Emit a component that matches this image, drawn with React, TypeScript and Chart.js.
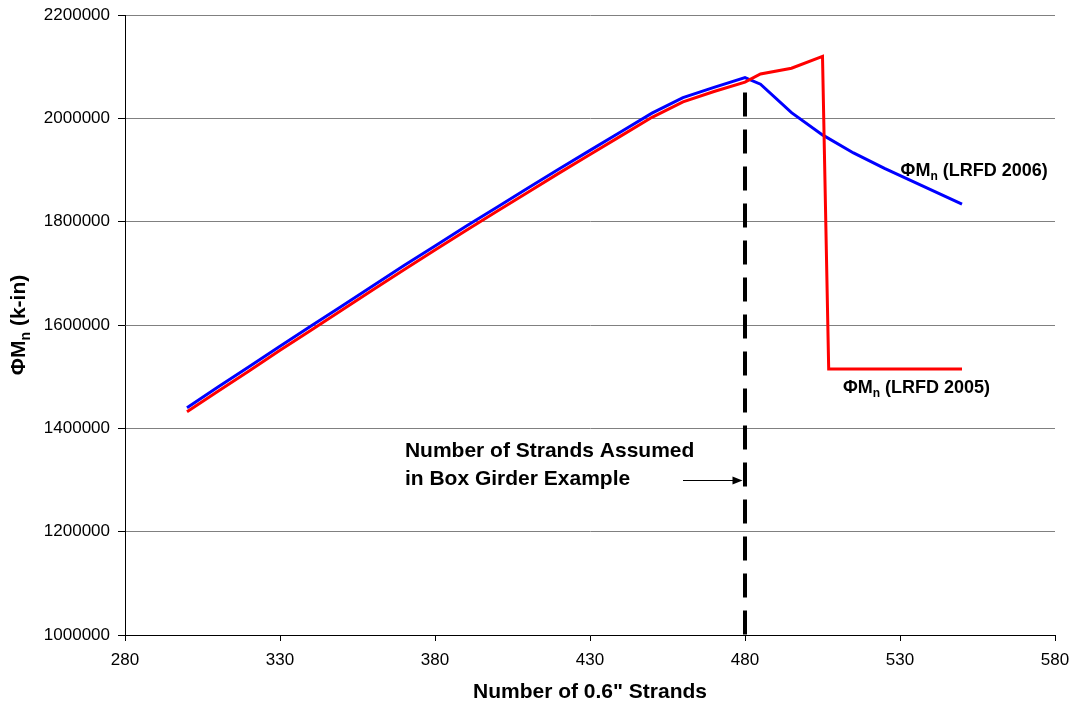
import React, { useEffect, useRef } from "react";
import { Chart, registerables } from "chart.js";

Chart.register(...registerables);

// ---- data ----
const strands2006 = [300, 310, 320, 330, 340, 350, 360, 370, 380, 390, 400, 410, 420, 430, 440, 450, 460, 470, 480, 485, 495, 505, 515, 525, 550];
const moment2006 = [1440000, 1480000, 1519000, 1559000, 1598000, 1637000, 1676000, 1715000, 1753000, 1791000, 1828000, 1865000, 1902000, 1938000, 1974000, 2010000, 2040000, 2060000, 2079000, 2066000, 2011000, 1968000, 1933000, 1903000, 1834000];

const strands2005 = [300, 310, 320, 330, 340, 350, 360, 370, 380, 390, 400, 410, 420, 430, 440, 450, 460, 470, 480, 485, 495, 505, 507, 550];
const moment2005 = [1432000, 1472000, 1511000, 1551000, 1590000, 1629000, 1668000, 1707000, 1745000, 1783000, 1820000, 1857000, 1894000, 1930000, 1966000, 2002000, 2032000, 2052000, 2070000, 2086000, 2097000, 2120000, 1515000, 1515000];

const assumedStrands = [480, 480];
const assumedLine = [2050000, 1000000];

const xTicks = [280, 330, 380, 430, 480, 530, 580];
const yMin = 1000000;
const yMax = 2200000;
const yStep = 200000;

const FONT = '"Liberation Sans", Arial, Helvetica, sans-serif';

function drawSubText(
  ctx: CanvasRenderingContext2D,
  x: number,
  y: number,
  pre: string,
  sub: string,
  post: string,
  size: number,
  subSize: number,
  measureOnly = false
): number {
  ctx.font = `bold ${size}px ${FONT}`;
  const w1 = ctx.measureText(pre).width;
  const w3 = ctx.measureText(post).width;
  ctx.font = `bold ${subSize}px ${FONT}`;
  const w2 = ctx.measureText(sub).width;
  if (!measureOnly) {
    ctx.font = `bold ${size}px ${FONT}`;
    ctx.fillText(pre, x, y);
    ctx.font = `bold ${subSize}px ${FONT}`;
    ctx.fillText(sub, x + w1, y + size * 0.22);
    ctx.font = `bold ${size}px ${FONT}`;
    ctx.fillText(post, x + w1 + w2, y);
  }
  return w1 + w2 + w3;
}

const annotationPlugin = {
  id: "annotations",
  afterDraw(chart: any) {
    const ctx: CanvasRenderingContext2D = chart.ctx;
    const xs = chart.scales.x;
    const ys = chart.scales.y;
    ctx.save();
    ctx.fillStyle = "#000";
    ctx.strokeStyle = "#000";
    ctx.textAlign = "left";
    ctx.textBaseline = "alphabetic";

    // series labels
    drawSubText(ctx, xs.getPixelForValue(530.2), ys.getPixelForValue(1888000), "ΦM", "n", " (LRFD 2006)", 18, 12);
    drawSubText(ctx, xs.getPixelForValue(511.6), ys.getPixelForValue(1468000), "ΦM", "n", " (LRFD 2005)", 18, 12);

    // note text
    ctx.font = `bold 21px ${FONT}`;
    const tx = xs.getPixelForValue(370.3);
    ctx.fillText("Number of Strands Assumed", tx, ys.getPixelForValue(1344000));
    ctx.fillText("in Box Girder Example", tx, ys.getPixelForValue(1290000));

    // arrow
    const ay = Math.round(ys.getPixelForValue(1300000)) + 0.5;
    const ax0 = xs.getPixelForValue(460);
    const ax1 = xs.getPixelForValue(480) - 2.5;
    ctx.lineWidth = 1.2;
    ctx.beginPath();
    ctx.moveTo(ax0, ay);
    ctx.lineTo(ax1 - 8, ay);
    ctx.stroke();
    ctx.beginPath();
    ctx.moveTo(ax1, ay);
    ctx.lineTo(ax1 - 10, ay - 4);
    ctx.lineTo(ax1 - 10, ay + 4);
    ctx.closePath();
    ctx.fill();

    // axis titles
    ctx.textAlign = "left";
    ctx.font = `bold 21px ${FONT}`;
    const xt = 'Number of 0.6" Strands';
    const xtw = ctx.measureText(xt).width;
    ctx.fillText(xt, (chart.chartArea.left + chart.chartArea.right) / 2 - xtw / 2, 698);

    const yw = drawSubText(ctx, 0, 0, "ΦM", "n", " (k-in)", 21, 14, true);
    ctx.translate(25, (chart.chartArea.top + chart.chartArea.bottom) / 2);
    ctx.rotate(-Math.PI / 2);
    drawSubText(ctx, -yw / 2, 0, "ΦM", "n", " (k-in)", 21, 14);
    ctx.restore();
  },
};

export default function App() {
  const ref = useRef<HTMLCanvasElement | null>(null);

  useEffect(() => {
    if (!ref.current) return;
    const chart = new Chart(ref.current, {
      type: "line",
      data: {
        datasets: [
          {
            label: "ΦMn (LRFD 2005)",
            data: strands2005.map((x, i) => ({ x, y: moment2005[i] })),
            borderColor: "#ff0000",
            borderWidth: 3,
            pointRadius: 0,
            tension: 0,
            fill: false,
            order: 1,
          },
          {
            label: "ΦMn (LRFD 2006)",
            data: strands2006.map((x, i) => ({ x, y: moment2006[i] })),
            borderColor: "#0000ff",
            borderWidth: 3,
            pointRadius: 0,
            tension: 0,
            fill: false,
            order: 2,
          },
          {
            label: "Assumed",
            data: assumedStrands.map((x, i) => ({ x, y: assumedLine[i] })),
            borderColor: "#000000",
            borderWidth: 4,
            borderDash: [24, 13],
            borderCapStyle: "butt",
            pointRadius: 0,
            fill: false,
            order: 3,
          },
        ],
      },
      options: {
        responsive: false,
        animation: false,
        devicePixelRatio: 1,
        layout: { padding: { left: 0, right: 21, top: 15, bottom: 0 } },
        plugins: {
          legend: { display: false },
          tooltip: { enabled: false },
          title: { display: false },
        },
        scales: {
          x: {
            type: "linear",
            min: 280,
            max: 580,
            afterBuildTicks: (scale: any) => {
              scale.ticks = xTicks.map((v) => ({ value: v }));
            },
            afterFit: (scale: any) => {
              scale.height = 73;
              scale.paddingLeft = 0;
              scale.paddingRight = 0;
            },
            grid: {
              display: true,
              drawOnChartArea: false,
              drawTicks: true,
              tickLength: 6,
              tickColor: "#000",
            },
            border: { display: true, color: "#000", width: 1 },
            ticks: {
              color: "#000",
              font: { family: FONT, size: 17 },
              padding: 9,
              maxRotation: 0,
              autoSkip: false,
              callback: (v: any) => String(v),
            },
          },
          y: {
            type: "linear",
            min: yMin,
            max: yMax,
            afterFit: (scale: any) => {
              scale.width = 125;
              scale.paddingTop = 0;
              scale.paddingBottom = 0;
            },
            grid: {
              color: "#808080",
              lineWidth: 1,
              drawTicks: true,
              tickLength: 7,
              tickColor: "#000",
            },
            border: { display: true, color: "#000", width: 1 },
            ticks: {
              stepSize: yStep,
              color: "#000",
              font: { family: FONT, size: 17 },
              padding: 8,
              callback: (v: any) => String(v),
            },
          },
        },
      },
      plugins: [annotationPlugin],
    });
    return () => chart.destroy();
  }, []);

  return (
    <div
      style={{
        position: "fixed",
        left: 0,
        top: 0,
        width: 1076,
        height: 708,
        background: "#fff",
      }}
    >
      <canvas ref={ref} width={1076} height={708} style={{ width: 1076, height: 708, display: "block" }} />
    </div>
  );
}
